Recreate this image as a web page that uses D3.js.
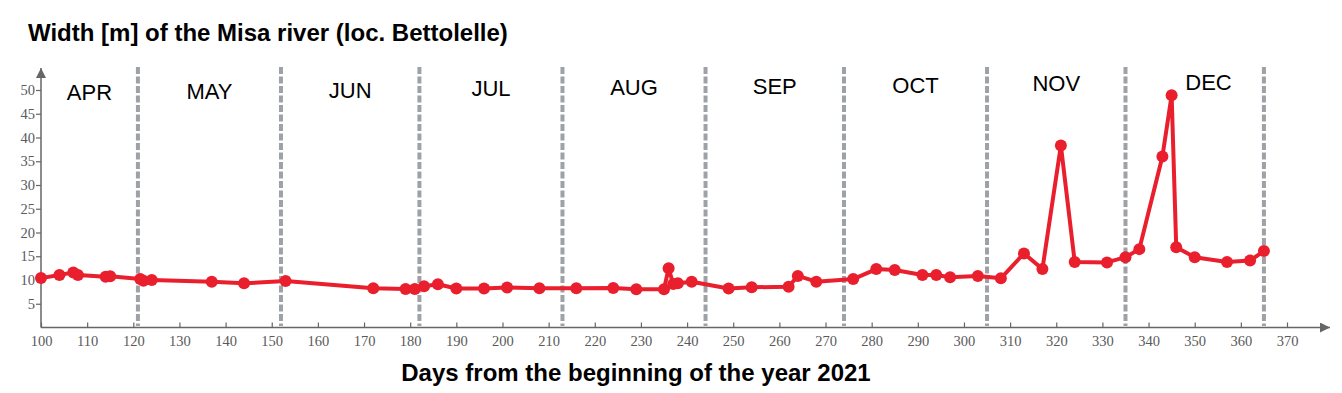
<!DOCTYPE html>
<html>
<head>
<meta charset="utf-8">
<script src="https://cdn.jsdelivr.net/npm/d3@7"></script>
<style>
  body { margin: 0; background: #fff; }
  svg { display: block; font-family: "Liberation Sans", Arial, sans-serif; }
  .tick text { font-family: "Liberation Serif", "Times New Roman", serif; font-size: 14.5px; fill: #5a5a5a; }
  .tick line { stroke: #666; stroke-width: 1.2; }
</style>
</head>
<body>
<div id="chart"></div>
<script>
// measurement days (day of year 2021) and river width [m]
const days = [100, 104, 107, 108, 114, 115, 121.5, 122.2, 124, 137, 144, 153,
  172, 179, 181, 183, 186, 190, 196, 201, 208, 216, 224, 229, 235,
  236, 237, 238, 241, 249, 254, 262, 264, 268, 276, 281, 285, 291, 294, 297, 303,
  308, 313, 317, 321, 324, 331, 335, 338, 343, 345, 346, 350, 357, 362, 365];
const widths = [10.4, 11.05, 11.6, 11.05, 10.7, 10.8, 10.2, 9.86, 10.0, 9.65, 9.3, 9.8,
  8.25, 8.1, 8.1, 8.7, 9.1, 8.2, 8.2, 8.4, 8.25, 8.25, 8.3, 8.05, 8.05,
  12.45, 9.15, 9.3, 9.65, 8.2, 8.45, 8.6, 10.85, 9.65, 10.2, 12.3, 12.1, 11.05, 11.05, 10.6, 10.85,
  10.35, 15.6, 12.3, 38.3, 13.8, 13.7, 14.8, 16.5, 36, 48.9, 16.9, 14.8, 13.8, 14.1, 16.1];

const months = ['APR', 'MAY', 'JUN', 'JUL', 'AUG', 'SEP', 'OCT', 'NOV', 'DEC'];
// first day of each month from May, plus end of year
const monthStarts = [121, 152, 182, 213, 244, 274, 305, 335, 365];

const xTicks = d3.range(100, 371, 10);
const yTicks = d3.range(5, 51, 5);

const W = 1342, H = 393;
const svg = d3.select('#chart').append('svg')
    .attr('width', W)
    .attr('height', H);

const x = d3.scaleLinear().domain([100, 370]).range([41, 1287]);
const y = d3.scaleLinear().domain([0, 50]).range([327.5, 90]);

// arrow heads for the axes
const defs = svg.append('defs');
defs.append('marker')
    .attr('id', 'arrow')
    .attr('viewBox', '0 0 10 10')
    .attr('refX', 10).attr('refY', 5)
    .attr('markerWidth', 10).attr('markerHeight', 10)
    .attr('markerUnits', 'userSpaceOnUse')
    .attr('orient', 'auto')
  .append('path')
    .attr('d', 'M0,0L10,5L0,10Z')
    .attr('fill', '#666');

// month boundaries
svg.append('g')
  .selectAll('line')
  .data(monthStarts)
  .enter().append('line')
    .attr('x1', d => x(d)).attr('x2', d => x(d))
    .attr('y1', 67).attr('y2', 326)
    .attr('stroke', '#9ea1a5')
    .attr('stroke-width', 4)
    .attr('stroke-dasharray', '7,2.5');

// month names, centred between boundaries
const bounds = [100].concat(monthStarts);
svg.append('g')
  .selectAll('text')
  .data(months)
  .enter().append('text')
    .attr('x', (d, i) => x((bounds[i] + bounds[i + 1]) / 2 + (i === 8 ? 3 : 0)))
    .attr('y', (d, i) => 100 - i * 1.25)
    .attr('text-anchor', 'middle')
    .attr('font-size', 22)
    .attr('fill', '#000')
    .text(d => d);

// x axis
const gx = svg.append('g')
    .attr('transform', 'translate(0,' + y(0) + ')')
    .call(d3.axisBottom(x).tickValues(xTicks).tickSize(-5).tickPadding(8));
gx.select('.domain').remove();
gx.append('line')
    .attr('x1', x(100)).attr('x2', 1330)
    .attr('stroke', '#666').attr('stroke-width', 1.5)
    .attr('marker-end', 'url(#arrow)');

// y axis
const gy = svg.append('g')
    .attr('transform', 'translate(' + x(100) + ',0)')
    .call(d3.axisLeft(y).tickValues(yTicks).tickSize(5).tickPadding(1));
gy.select('.domain').remove();
gy.append('line')
    .attr('y1', y(0)).attr('y2', 68)
    .attr('stroke', '#666').attr('stroke-width', 1.5)
    .attr('marker-end', 'url(#arrow)');

// data line and dots
const data = days.map((d, i) => ({ x: d, y: widths[i] }));
const line = d3.line().x(d => x(d.x)).y(d => y(d.y));

svg.append('path')
    .datum(data)
    .attr('d', line)
    .attr('fill', 'none')
    .attr('stroke', '#ea1f2e')
    .attr('stroke-width', 4)
    .attr('stroke-linejoin', 'round');

svg.append('g')
  .selectAll('circle')
  .data(data)
  .enter().append('circle')
    .attr('cx', d => x(d.x))
    .attr('cy', d => y(d.y))
    .attr('r', 6)
    .attr('fill', '#ea1f2e');

// titles
svg.append('text')
    .attr('x', 28).attr('y', 41)
    .attr('font-size', 24)
    .attr('font-weight', 'bold')
    .text('Width [m] of the Misa river (loc. Bettolelle)');

svg.append('text')
    .attr('x', 636).attr('y', 381)
    .attr('text-anchor', 'middle')
    .attr('font-size', 24)
    .attr('font-weight', 'bold')
    .text('Days from the beginning of the year 2021');
</script>
</body>
</html>
